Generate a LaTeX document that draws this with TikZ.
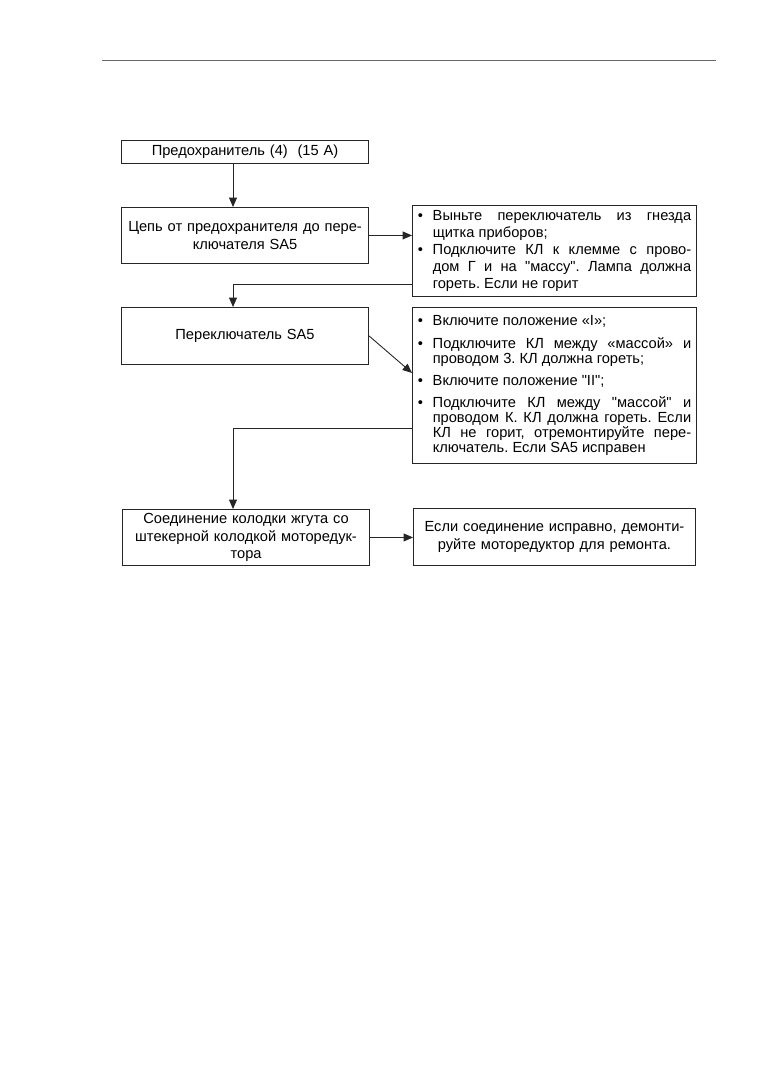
\documentclass[tikz,border=0pt]{standalone}
\usepackage{fontspec}
\setmainfont{Liberation Sans}[Ligatures=TeXOff]
\usetikzlibrary{positioning,arrows.meta}
\frenchspacing

\newcommand{\bul}{\noindent\hangindent=0.41cm\hangafter=1\makebox[0.41cm][l]{\textbullet}}

\begin{document}
\begin{tikzpicture}[x=0.027595cm, y=-0.027595cm,
    lbox/.style={draw=black!85, line width=0.7pt, anchor=north west, minimum width=6.82cm, text width=6.7cm, align=center, inner sep=0pt, font=\fontsize{11.5pt}{13.6pt}\selectfont},
    rbox/.style={draw=black!85, line width=0.7pt, anchor=north west, minimum width=7.84cm, text width=7.54cm, align=justify, inner xsep=0.15cm, inner ysep=0pt, font=\fontsize{11.5pt}{13.4pt}\selectfont},
    arr/.style={-{Triangle[length=2.6mm,width=2.2mm]}, line width=0.7pt, black!85}]
    \useasboundingbox (0,0) rectangle (761,1076);

    % Header rule
    \draw[black!60, line width=0.6pt] (102,60) -- (716,60);
    \coordinate (trunk) at (233,0);

    % Left column
    \node[lbox, minimum height=0.635cm] (fuse) at (121,140) {Предохранитель (4)\ \ (15 А)};
    \node[lbox, minimum height=1.545cm] (circuit) at (121,207) {Цепь от предохранителя до пере-\\ключателя SA5};
    \node[lbox, minimum height=1.573cm] (switch) at (121,307) {Переключатель SA5};
    \node[lbox, minimum height=1.545cm] (plug) at (122,509) {Соединение колодки жгута со\\штекерной колодкой моторедук-\\тора};

    % Right column
    \node[rbox, minimum height=2.51cm] (check1) at (412,205) {\bul Выньте переключатель из гнезда\linebreak щитка приборов;\par
        \bul Подключите КЛ к клемме с прово-\linebreak дом Г и на "массу". Лампа должна\linebreak гореть. Если не горит\par};
    \node[rbox, minimum height=4.305cm, font=\fontsize{11.5pt}{11.6pt}\selectfont] (check2) at (412,307) {\setlength{\parskip}{6pt}%
        \bul Включите положение «I»;\par
        \bul Подключите КЛ между «массой» и\linebreak проводом 3. КЛ должна гореть;\par
        \bul Включите положение "II";\par
        \bul Подключите КЛ между "массой" и\linebreak проводом К. КЛ должна гореть. Если\linebreak КЛ не горит, отремонтируйте пере-\linebreak ключатель. Если SA5 исправен\par};
    \node[lbox, minimum width=7.78cm, text width=7.6cm, minimum height=1.573cm] (repair) at (413,508) {Если соединение исправно, демонти-\\руйте моторедуктор для ремонта.};

    % Connectors
    \draw[arr] (fuse.south -| trunk) -- (circuit.north -| trunk);
    \draw[arr] (circuit.east) -- (circuit.east -| check1.west);
    \draw[arr] ([yshift=0.33cm]check1.south west) -| (switch.north -| trunk);
    \draw[arr] (switch.east) -- ([yshift=-1.82cm]check2.north west);
    \draw[arr] ([yshift=0.97cm]check2.south west) -| (plug.north -| trunk);
    \draw[arr] (plug.east) -- (plug.east -| repair.west);
\end{tikzpicture}
\end{document}
